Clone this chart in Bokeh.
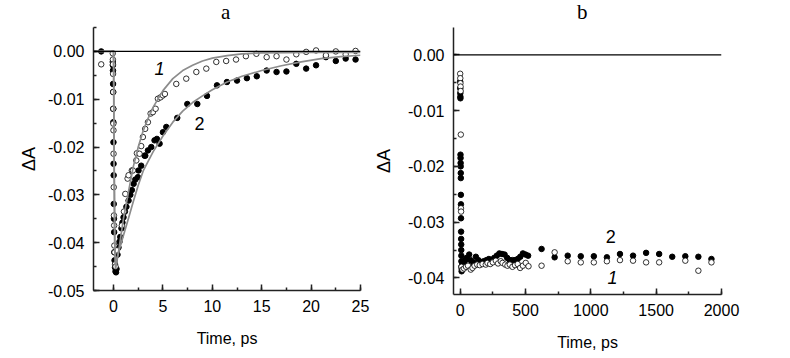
from bokeh.plotting import figure
from bokeh.layouts import row, column
from bokeh.models import Span, Label, SingleIntervalTicker, PrintfTickFormatter
from bokeh.embed import file_html
from bokeh.resources import INLINE

# ---------------- Panel a data (Time, ps ; dA) ----------------
a1_t = [-1.25,
        -0.08, -0.07, -0.06, -0.05, -0.04, -0.03, -0.02, -0.01, 0.0, 0.02, 0.04, 0.06, 0.08, 0.1,
        0.15, 0.2, 0.34, 0.84, 1.05, 1.19, 1.42, 1.52, 1.85, 1.96, 2.3, 2.36, 2.63, 2.8, 2.97,
        3.2, 3.48, 3.75, 3.98, 4.26, 4.49, 4.76, 5.0, 5.2, 6.35, 7.36, 8.38, 9.39, 10.4,
        11.4, 12.4, 13.4, 14.46, 15.5, 16.5, 17.5, 18.5, 19.5, 20.5, 21.5, 22.5, 23.5, 24.5]
a1_v = [-0.0027,
        -0.0004, -0.0017, -0.0027, -0.0047, -0.0085, -0.0120, -0.0151, -0.0165, -0.0214, -0.0284,
        -0.0343, -0.0364, -0.0406, -0.0420,
        -0.0445, -0.0450, -0.0416, -0.0364, -0.0335, -0.0298, -0.0266, -0.0259, -0.0249, -0.0249,
        -0.0228, -0.0213, -0.0214, -0.0198, -0.0179,
        -0.0162, -0.0148, -0.0130, -0.0127, -0.0120, -0.0099, -0.0096, -0.0092, -0.0089, -0.0068,
        -0.0057, -0.0043, -0.0036, -0.0022,
        -0.0020, -0.0017, -0.0010, -0.0005, -0.0012, -0.0010, -0.0017, -0.0006, -0.0001, 0.0002,
        -0.0008, 0.0000, -0.0006, 0.0001]

a2_t = [-1.25,
        -0.08, -0.07, -0.06, -0.05, -0.04, -0.03, -0.02, -0.01, 0.0, 0.01, 0.02, 0.04, 0.06, 0.08, 0.1,
        0.15, 0.2, 0.25, 0.3, 0.4, 0.5, 0.6, 0.68, 0.8, 0.9, 1.01, 1.15, 1.3, 1.52, 1.7, 1.85,
        2.03, 2.2, 2.47, 2.53, 2.8, 3.14, 3.21, 3.48, 3.82, 4.15, 4.39, 4.66, 5.0, 5.34, 6.45,
        7.47, 8.48, 9.46, 10.47, 11.48, 12.5, 13.5, 14.5, 15.5, 16.5, 17.5, 18.5, 19.5, 20.5,
        21.5, 22.5, 23.5, 24.5]
a2_v = [0.0000,
        -0.0022, -0.0029, -0.0040, -0.0068, -0.0085, -0.0120, -0.0148, -0.0190, -0.0235, -0.0259,
        -0.0319, -0.0350, -0.0378, -0.0420, -0.0437,
        -0.0452, -0.0460, -0.0462, -0.0455, -0.0425, -0.0410, -0.0398, -0.0388, -0.0370, -0.0358,
        -0.0347, -0.0335, -0.0325, -0.0312, -0.0300, -0.0290,
        -0.0277, -0.0268, -0.0263, -0.0249, -0.0239, -0.0218, -0.0218, -0.0207, -0.0200, -0.0186,
        -0.0183, -0.0193, -0.0169, -0.0158, -0.0139,
        -0.0110, -0.0110, -0.0093, -0.0071, -0.0064, -0.0061, -0.0056, -0.0052, -0.0040, -0.0043,
        -0.0042, -0.0026, -0.0036, -0.0029,
        -0.0012, -0.0020, -0.0015, -0.0017]

# fitted curves
fit1_t = [-2.0, 0.0, 0.05, 0.12, 0.2, 0.5, 1.0, 1.5, 2.0, 2.5, 3.0, 3.5, 4.0, 5.0, 6.0, 7.0,
          8.0, 9.0, 10.0, 11.5, 13.0, 15.0, 20.0, 25.0]
fit1_v = [0.0, 0.0, -0.0200, -0.0400, -0.0455, -0.0420, -0.0350, -0.0295, -0.0241, -0.0200,
          -0.0166, -0.0140, -0.0117, -0.0082, -0.0057, -0.0040, -0.0029, -0.0020, -0.0014,
          -0.0009, -0.0005, -0.0003, -0.0002, -0.0002]
fit2_t = [-2.0, 0.0, 0.05, 0.12, 0.2, 0.5, 1.0, 1.5, 2.0, 2.5, 3.0, 4.0, 5.0, 6.0, 7.0, 8.0,
          9.0, 10.0, 11.5, 13.0, 15.0, 17.0, 19.0, 21.0, 23.0, 25.0]
fit2_v = [0.0, 0.0, -0.0200, -0.0400, -0.0445, -0.0420, -0.0385, -0.0350, -0.0314, -0.0280,
          -0.0250, -0.0210, -0.0177, -0.0148, -0.0125, -0.0107, -0.0093, -0.0080, -0.0064,
          -0.0052, -0.0040, -0.0030, -0.0022, -0.0015, -0.0011, -0.0008]

# ---------------- Panel b data (Time, ps ; dA) ----------------
b1_t = [0, 1, 2, 3, 4, 5, 6, 7,
        10, 18, 30, 45, 60, 81, 94, 110, 130, 150, 171, 196, 209, 230, 250, 273, 290, 311,
        324, 345, 362, 380, 400, 420, 440, 459, 480, 502, 523,
        623, 723, 823, 923, 1023, 1123, 1223, 1323, 1423, 1523, 1723, 1823, 1923]
b1_v = [-0.0034, -0.0042, -0.0051, -0.0057, -0.0065, -0.0143, -0.0275, -0.0281,
        -0.0380, -0.0385, -0.0383, -0.0380, -0.0378, -0.0385, -0.0382, -0.0378, -0.0376,
        -0.0377, -0.0375, -0.0376, -0.0373, -0.0375, -0.0372, -0.0369, -0.0374, -0.0370,
        -0.0373, -0.0376, -0.0378, -0.0376, -0.0380, -0.0377, -0.0375, -0.0382, -0.0378,
        -0.0373, -0.0379,
        -0.0378, -0.0354, -0.0370, -0.0372, -0.0372, -0.0370, -0.0368, -0.0369, -0.0372,
        -0.0372, -0.0369, -0.0387, -0.0372]

b2_t = [0, 0.5, 1, 1.5, 2, 2.5, 3, 3.5, 4, 4.5, 5, 5.5, 6, 6.5, 7, 7.5, 8, 8.5, 9, 9.5, 10,
        11, 12, 14, 16, 20, 30, 40, 50, 69, 80, 100, 120, 140, 160, 180, 200, 220, 240, 260,
        280, 300, 320, 340, 360, 380, 400, 420, 440, 460, 480, 500, 520,
        623, 723, 823, 923, 1023, 1123, 1223, 1323, 1423, 1523, 1623, 1723, 1823, 1923]
b2_v = [-0.0048, -0.0060, -0.0069, -0.0075, -0.0078, -0.0179, -0.0185, -0.0194, -0.0200,
        -0.0212, -0.0221, -0.0251, -0.0268, -0.0293, -0.0317, -0.0330, -0.0340, -0.0350,
        -0.0360, -0.0370, -0.0380,
        -0.0388, -0.0384, -0.0378, -0.0372, -0.0375, -0.0370, -0.0368, -0.0364, -0.0358,
        -0.0368, -0.0372, -0.0362, -0.0368, -0.0372, -0.0370, -0.0368, -0.0366, -0.0368,
        -0.0364, -0.0360, -0.0356, -0.0357, -0.0358, -0.0364, -0.0368, -0.0368, -0.0368,
        -0.0366, -0.0362, -0.0356, -0.0358, -0.0360,
        -0.0348, -0.0363, -0.0360, -0.0361, -0.0361, -0.0363, -0.0357, -0.0360, -0.0355,
        -0.0357, -0.0362, -0.0361, -0.0362, -0.0366]

panel_titles = ["a", "b"]

TICK_FONT = "Liberation Sans"
FIT_COLOR = "#8c8c8c"


def style(p, xint, yint, ylab_standoff):
    for ax in (p.xaxis[0], p.yaxis[0]):
        ax.axis_line_color = "#222222"
        ax.axis_line_width = 1.5
        ax.major_tick_line_color = "#222222"
        ax.minor_tick_line_color = "#222222"
        ax.major_tick_line_width = 1.5
        ax.minor_tick_line_width = 1.5
        ax.major_tick_in = 6
        ax.major_tick_out = 0
        ax.minor_tick_in = 3
        ax.minor_tick_out = 0
        ax.major_label_text_font = TICK_FONT
        ax.major_label_text_font_size = "16px"
        ax.major_label_text_color = "black"
        ax.major_label_standoff = 9
        ax.axis_label_text_font = TICK_FONT
        ax.axis_label_text_font_style = "normal"
        ax.axis_label_text_color = "black"
    p.xaxis[0].axis_label = "Time, ps"
    p.xaxis[0].axis_label_text_font_size = "16px"
    p.xaxis[0].axis_label_standoff = 15
    p.yaxis[0].axis_label = "ΔA"
    p.yaxis[0].axis_label_text_font_size = "18px"
    p.yaxis[0].axis_label_standoff = ylab_standoff
    p.xaxis[0].ticker = SingleIntervalTicker(interval=xint, num_minor_ticks=2)
    p.yaxis[0].ticker = SingleIntervalTicker(interval=yint, num_minor_ticks=2)
    p.yaxis[0].formatter = PrintfTickFormatter(format="%.2f")
    p.xgrid.visible = False
    p.ygrid.visible = False
    p.outline_line_color = None
    p.background_fill_color = "white"
    p.border_fill_color = "white"
    p.add_layout(Span(location=0, dimension="width", line_color="black", line_width=1.3))


def text(p, x, y, s, size="18px", style_="normal"):
    p.add_layout(Label(x=x, y=y, text=s, text_font=TICK_FONT, text_font_size=size,
                       text_font_style=style_, text_align="center", text_baseline="middle",
                       text_color="black"))


def title_fig(width, xfrac, s):
    t = figure(width=width, height=26, min_border=0, x_range=(0, 1), y_range=(0, 1),
               x_axis_type=None, y_axis_type=None, output_backend="svg",
               toolbar_location=None)
    t.xgrid.visible = False
    t.ygrid.visible = False
    t.outline_line_color = None
    t.add_layout(Label(x=xfrac, y=0.55, text=s, text_font="Liberation Serif",
                       text_font_size="21px", text_align="center",
                       text_baseline="middle", text_color="black"))
    return t


# ---------------- Panel a ----------------
pa = figure(width=371, height=325, frame_width=267, frame_height=263,
            min_border_left=93, min_border_right=11, min_border_top=1, min_border_bottom=61,
            x_range=(-2.03, 25.0), y_range=(-0.05, 0.005),
            output_backend="svg", toolbar_location=None)
style(pa, 5, 0.01, 6)
pa.scatter(a2_t, a2_v, marker="circle", size=5.5, fill_color="black", line_color="black")
pa.scatter(a1_t, a1_v, marker="circle", size=5.5, fill_color="white", line_color="black",
           line_width=0.8)
pa.line(fit1_t, fit1_v, line_color=FIT_COLOR, line_width=1.7)
pa.line(fit2_t, fit2_v, line_color=FIT_COLOR, line_width=1.7)
text(pa, 4.66, -0.0036, "1", style_="italic")
text(pa, 8.71, -0.0151, "2")

# ---------------- Panel b ----------------
pb = figure(width=411, height=325, frame_width=268, frame_height=267,
            min_border_left=80, min_border_right=63, min_border_top=0, min_border_bottom=58,
            x_range=(-51, 2000), y_range=(-0.04296, 0.00489),
            output_backend="svg", toolbar_location=None)
style(pb, 500, 0.01, 11)
pb.scatter(b2_t, b2_v, marker="circle", size=5.5, fill_color="black", line_color="black")
pb.scatter(b1_t, b1_v, marker="circle", size=5.5, fill_color="white", line_color="black",
           line_width=0.8)
text(pb, 1153, -0.0326, "2")
text(pb, 1166, -0.0400, "1", style_="italic")

ta = title_fig(371, 0.607, panel_titles[0])
tb = title_fig(411, 0.513, panel_titles[1])

layout = column(row(ta, tb), row(pa, pb))
open("out.html", "w").write(file_html(layout, INLINE))
